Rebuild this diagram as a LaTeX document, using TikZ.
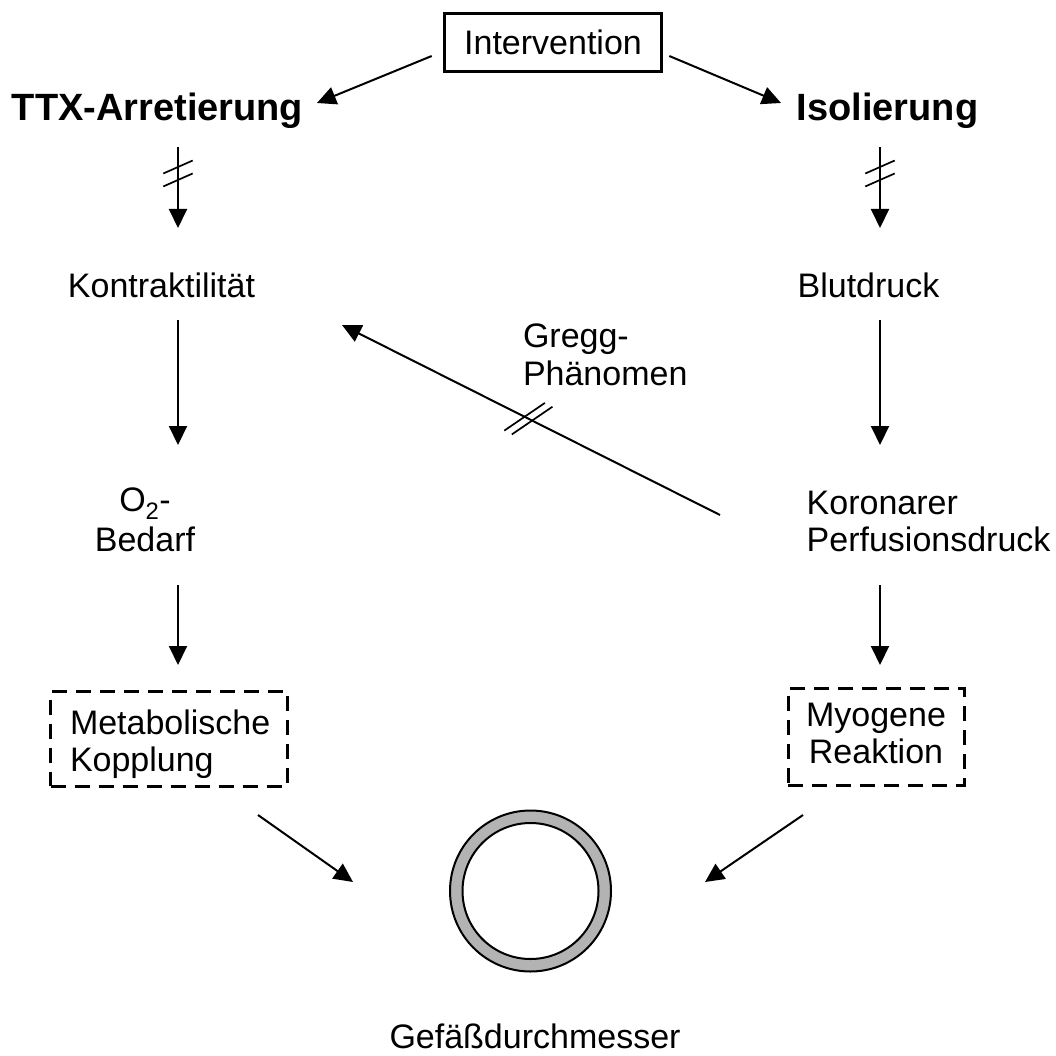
\documentclass[tikz,border=0pt]{standalone}
\usepackage{fontspec}
\setmainfont{Liberation Sans}
\usetikzlibrary{arrows.meta,calc}
\definecolor{ringgray}{RGB}{179,179,179}
\begin{document}
\begin{tikzpicture}[x=1pt,y=-1pt,
  every node/.style={inner sep=0pt, outer sep=0pt, font=\fontsize{34}{37}\selectfont},
  boldtxt/.style={font=\fontsize{38}{44}\selectfont\bfseries},
  arr/.style={line width=2pt, -{Triangle[length=19pt,width=18pt]}},
  hash/.style={line width=1.7pt},
  dbox/.style={draw, line width=3.3pt, dash pattern=on 15pt off 9pt},
]
\useasboundingbox (0,0) rectangle (1056,1056);

% nodes
\node[draw, line width=3pt, minimum width=217pt, minimum height=58pt] (int) at (553,42.5) {Intervention};
\node[boldtxt, anchor=base] (ttx) at (157.5,121) {TTX-Arretierung};
\node[boldtxt, anchor=base] (iso) at (887.5,121) {Isolierung};
\node[anchor=base] (kon) at (161.5,298) {Kontraktilität};
\node[anchor=base] (blut) at (868.5,298) {Blutdruck};
\node[align=center, anchor=north, font=\fontsize{34}{39.5}\selectfont] (o2) at (145,488.2) {O\textsubscript{2}-\\Bedarf};
\node[align=left, anchor=north west] (kor) at (806.7,490.7) {Koronarer\\Perfusionsdruck};
\node[align=left, anchor=north west, font=\fontsize{34}{38}\selectfont] (gregg) at (523,324.2) {Gregg-\\Phänomen};
\node[dbox, minimum width=236.7pt, minimum height=94.7pt] (met) at (169,739) {};
\node[align=left, anchor=north west] (mett) at (70,709.7) {Metabolische\\Kopplung};
\node[dbox, minimum width=176pt, minimum height=96.7pt] (myo) at (876.35,737) {};
\node[align=center, anchor=north] (myot) at (876,702.7) {Myogene\\Reaktion};
\node[circle, draw, line width=2pt, fill=ringgray, minimum size=161pt] (circ) at (530.5,891) {};
\draw[line width=2pt, fill=white] (circ.center) circle[radius=68];
\node[anchor=base] (gef) at (535,1048) {Gefäßdurchmesser};

% connectors
\draw[arr] ($(int.west)+(-12.8,13.5)$) -- ($(ttx.base east)+(13.8,-18)$);
\draw[arr] ($(int.east)+(7.8,13.5)$) -- ($(iso.base west)+(-15.7,-18)$);

\draw[arr] ($(ttx.base)+(20.5,26)$) -- ($(kon.base)+(16.5,-70)$)
  coordinate[pos=0.247] (ha1) coordinate[pos=0.407] (ha2);
\draw[hash] ($(ha1)+(-14.7,6.5)$) -- ($(ha1)+(14.7,-6.5)$);
\draw[hash] ($(ha2)+(-14.7,6.5)$) -- ($(ha2)+(14.7,-6.5)$);

\draw[arr] ($(iso.base)+(-7.5,26)$) -- ($(blut.base)+(11.5,-70)$)
  coordinate[pos=0.247] (hb1) coordinate[pos=0.407] (hb2);
\draw[hash] ($(hb1)+(-14.7,6.5)$) -- ($(hb1)+(14.7,-6.5)$);
\draw[hash] ($(hb2)+(-14.7,6.5)$) -- ($(hb2)+(14.7,-6.5)$);

\draw[arr] ($(kon.base)+(16.5,22)$) -- ($(o2.north)+(33,-43.2)$);
\draw[arr] ($(o2.north)+(33,96.8)$) -- ($(met.north)+(9,-26.65)$);
\draw[arr] ($(blut.base)+(11.5,22)$) -- ($(kor.north west)+(73.3,-45.7)$);
\draw[arr] ($(kor.north west)+(73.3,94.3)$) -- ($(myo.north)+(3.65,-23.65)$);

\draw[arr] ($(kor.north west)+(-86.7,24.3)$) -- ($(kon.base)+(180.5,27)$)
  coordinate[pos=0.497] (hg1) coordinate[pos=0.517] (hg2);
\draw[hash] ($(hg1)+(-20.3,13.85)$) -- ($(hg1)+(20.3,-13.85)$);
\draw[hash] ($(hg2)+(-20.3,13.85)$) -- ($(hg2)+(20.3,-13.85)$);

\draw[arr] ($(met.south)+(89,28.65)$) -- ($(circ.center)+(-177.5,-9)$);
\draw[arr] ($(myo.south)+(-73.35,29.65)$) -- ($(circ.center)+(174.5,-9)$);
\end{tikzpicture}
\end{document}
